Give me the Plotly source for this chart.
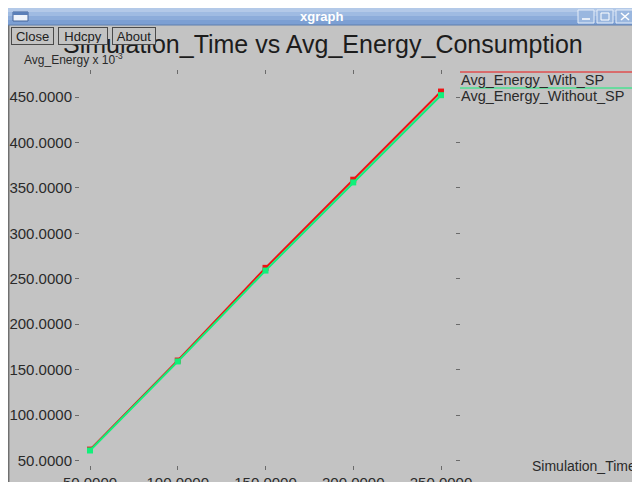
import plotly.graph_objects as go

# ---------------- data ----------------
sim_time = [50, 100, 150, 200, 250]
energy_with_sp = [62, 160, 262, 359, 456]
energy_without_sp = [61, 159, 259, 356, 452]
series_names = ["Avg_Energy_With_SP", "Avg_Energy_Without_SP"]
x_ticks = [50, 100, 150, 200, 250]
y_ticks = [50, 100, 150, 200, 250, 300, 350, 400, 450]
x_ticktext = ["%.4f" % v for v in x_ticks]
y_ticktext = ["%.4f" % v for v in y_ticks]
title_text = "Simulation_Time vs Avg_Energy_Consumption"
y_unit_text = "Avg_Energy x 10<sup>-3</sup>"
x_name_text = "Simulation_Time"
window_title = "xgraph"
button_labels = ["Close", "Hdcpy", "About"]

# ---------------- geometry helpers ----------------
# the page body has an 8px margin, so the figure is sized to the remaining window
OFF = 8
W, H = 640 - OFF, 482 - OFF
BG = "#c3c3c3"
FONT = "Liberation Sans, Arial, sans-serif"
TXT = "#2a2a2a"
RED = "#ee1414"
GREEN = "#10f07a"


def px(x):
    # window pixel -> paper fraction
    return (x - OFF) / W


def py(y):
    return 1 - (y - OFF) / H


# plot area in window pixels
L, R, T, B = 80, 455, 75, 465
# value -> pixel calibration (window pixels)
x_px_per = (441 - 90) / 200.0
y_px_per = (460.5 - 97) / 400.0
x_range = [50 - (90 - L) / x_px_per, 250 + (R - 441) / x_px_per]
y_range = [50 - (B - 460.5) / y_px_per, 450 + (97 - T) / y_px_per]

fig = go.Figure()
fig.add_trace(go.Scatter(x=sim_time, y=energy_with_sp, name=series_names[0],
                         mode="lines+markers", line=dict(color=RED, width=2),
                         marker=dict(color=RED, size=6, symbol="square")))
fig.add_trace(go.Scatter(x=sim_time, y=energy_without_sp, name=series_names[1],
                         mode="lines+markers", line=dict(color=GREEN, width=2),
                         marker=dict(color=GREEN, size=6, symbol="square")))

axis_common = dict(showgrid=False, zeroline=False, showline=False, automargin=False,
                   ticks="outside", ticklen=4, tickwidth=1, tickcolor="#6a6a6a",
                   mirror="ticks", tickfont=dict(family=FONT, size=15, color=TXT))
fig.update_xaxes(domain=[px(L), px(R)], range=x_range, tickvals=x_ticks,
                 ticktext=x_ticktext, **axis_common)
fig.update_yaxes(domain=[py(B), py(T)], range=y_range, tickvals=y_ticks,
                 ticktext=y_ticktext, **axis_common)

shapes = []
# window frame: dark left border
shapes.append(dict(type="line", xref="paper", yref="paper", x0=px(8.7), x1=px(8.7), y0=0, y1=py(25),
                   line=dict(color="#707070", width=1.5), layer="above"))
# title bar gradient
bar_stripes = [(8, 12, "#b3c9e8"), (12, 16, "#9fbbe2"), (16, 20, "#8cacda"), (20, 25, "#7c9fd3")]
for y0, y1, c in bar_stripes:
    shapes.append(dict(type="rect", xref="paper", yref="paper", x0=0, x1=1,
                       y0=py(y1), y1=py(y0), fillcolor=c, line=dict(width=0), layer="above"))
shapes.append(dict(type="line", xref="paper", yref="paper", x0=0, x1=1, y0=py(25), y1=py(25),
                   line=dict(color="#5f7fae", width=1), layer="above"))
# left window icon
shapes.append(dict(type="rect", xref="paper", yref="paper", x0=px(13), x1=px(28), y0=py(21), y1=py(12),
                   fillcolor="#eef3fa", line=dict(color="#45659a", width=1), layer="above"))
shapes.append(dict(type="rect", xref="paper", yref="paper", x0=px(13), x1=px(28), y0=py(15), y1=py(12),
                   fillcolor="#5a7fb8", line=dict(width=0), layer="above"))
# right window buttons
for bx0, bx1 in [(578, 594), (597, 613), (616, 634)]:
    shapes.append(dict(type="rect", xref="paper", yref="paper", x0=px(bx0), x1=px(bx1),
                       y0=py(23), y1=py(10), fillcolor="#9ab7df",
                       line=dict(color="#e6eef9", width=1), layer="above"))
shapes.append(dict(type="line", xref="paper", yref="paper", x0=px(582), x1=px(590), y0=py(19), y1=py(19),
                   line=dict(color="white", width=1.5), layer="above"))
shapes.append(dict(type="rect", xref="paper", yref="paper", x0=px(601), x1=px(609), y0=py(20), y1=py(13),
                   line=dict(color="white", width=1), layer="above"))
shapes.append(dict(type="line", xref="paper", yref="paper", x0=px(621), x1=px(629), y0=py(20), y1=py(13),
                   line=dict(color="white", width=1.5), layer="above"))
shapes.append(dict(type="line", xref="paper", yref="paper", x0=px(621), x1=px(629), y0=py(13), y1=py(20),
                   line=dict(color="white", width=1.5), layer="above"))
# legend lines
shapes.append(dict(type="line", xref="paper", yref="paper", x0=px(460), x1=px(638), y0=py(72), y1=py(72),
                   line=dict(color=RED, width=1), layer="above"))
shapes.append(dict(type="line", xref="paper", yref="paper", x0=px(460), x1=px(638), y0=py(88), y1=py(88),
                   line=dict(color=GREEN, width=1), layer="above"))

annotations = []
annotations.append(dict(text="<b>" + window_title + "</b>", xref="paper", yref="paper",
                        x=px(321), y=py(16.5), xanchor="center", yanchor="middle", showarrow=False,
                        font=dict(family=FONT, size=13, color="white")))
annotations.append(dict(text=title_text, xref="paper", yref="paper", x=px(323), y=py(44),
                        xanchor="center", yanchor="middle", showarrow=False,
                        font=dict(family=FONT, size=25, color="#1c1c1c")))
annotations.append(dict(text=y_unit_text, xref="paper", yref="paper", x=px(22), y=py(59),
                        xanchor="left", yanchor="middle", showarrow=False,
                        font=dict(family=FONT, size=12, color=TXT)))
annotations.append(dict(text=series_names[0], xref="paper", yref="paper", x=px(459), y=py(80),
                        xanchor="left", yanchor="middle", showarrow=False,
                        font=dict(family=FONT, size=14.5, color=TXT)))
annotations.append(dict(text=series_names[1], xref="paper", yref="paper", x=px(459), y=py(96),
                        xanchor="left", yanchor="middle", showarrow=False,
                        font=dict(family=FONT, size=14.5, color=TXT)))
annotations.append(dict(text=x_name_text, xref="paper", yref="paper", x=px(638), y=py(466),
                        xanchor="right", yanchor="middle", showarrow=False,
                        font=dict(family=FONT, size=14, color=TXT)))
# buttons drawn over the title
for label, (bx0, bx1) in zip(button_labels, [(11, 54), (58, 108), (112, 156)]):
    annotations.append(dict(text=label, xref="paper", yref="paper", x=px((bx0 + bx1) / 2), y=py(36),
                            xanchor="center", yanchor="middle", showarrow=False,
                            width=bx1 - bx0 - 4, height=14, bgcolor=BG,
                            bordercolor="#4a4a4a", borderwidth=1, borderpad=1,
                            font=dict(family=FONT, size=13, color="#202020")))

fig.update_layout(width=W, height=H, margin=dict(l=0, r=0, t=0, b=0, autoexpand=False),
                  paper_bgcolor=BG, plot_bgcolor=BG, showlegend=False,
                  shapes=shapes, annotations=annotations,
                  font=dict(family=FONT, color=TXT))

fig.write_html("out.html")
